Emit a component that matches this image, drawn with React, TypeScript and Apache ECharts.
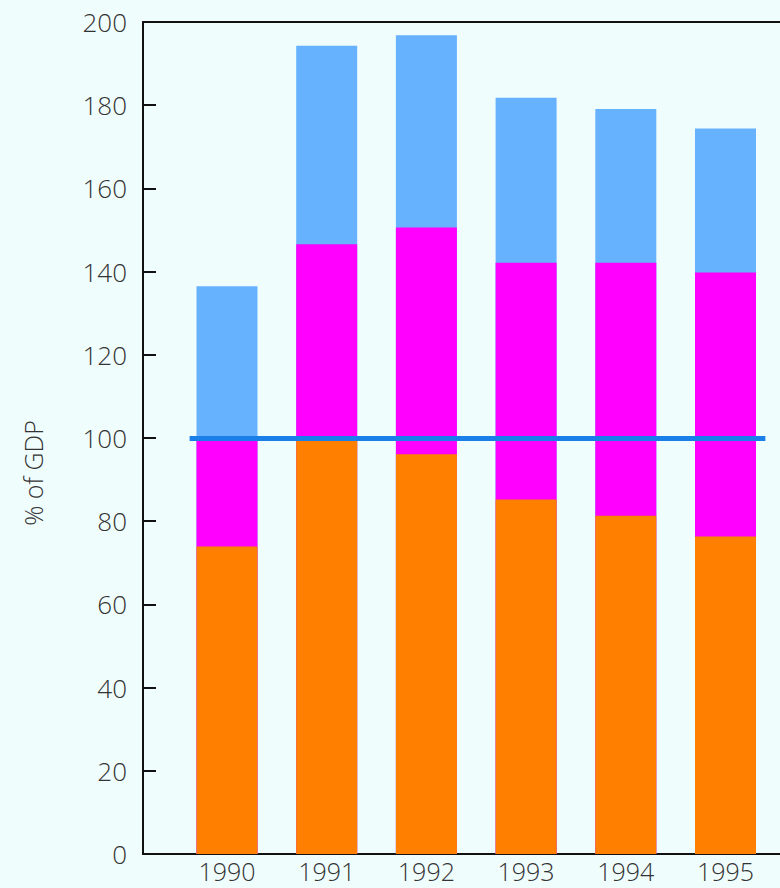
import React, { useEffect, useRef } from "react";
import * as echarts from "echarts";

const years = [1990, 1991, 1992, 1993, 1994, 1995];
const orangeValues = [73.9, 99.3, 96.1, 85.2, 81.3, 76.3];
const magentaValues = [25.4, 47.3, 54.5, 56.9, 60.8, 63.5];
const blueValues = [37.2, 47.7, 46.2, 39.7, 37.0, 34.6];
const referenceLevel = 100;
const yTicks = { min: 0, max: 200, interval: 20 };

const FONT = "'Open Sans', 'Noto Sans', sans-serif";

export default function App() {
  const ref = useRef<HTMLDivElement>(null);

  useEffect(() => {
    if (!ref.current) return;
    const chart = echarts.init(ref.current, null, { renderer: "svg" });
    // cumulative tops of each stacked segment (the value x axis does not stack, so
    // segments are drawn as overlapping bars from the baseline, tallest first)
    const orangeTop = orangeValues.map((v) => v);
    const magentaTop = orangeValues.map((v, i) => v + magentaValues[i]);
    const blueTop = magentaTop.map((v, i) => v + blueValues[i]);
    const pair = (vals: number[]) => years.map((y, i) => [y, +vals[i].toFixed(2)]);
    const xMin = 1989.1575;
    const xMax = 1995.5466;
    const option: any = {
      animation: false,
      backgroundColor: "#f0fdfd",
      grid: { left: 143, right: 0, top: 22, bottom: 34, containLabel: false },
      xAxis: [
        {
          type: "value",
          min: xMin,
          max: xMax,
          position: "bottom",
          axisLine: { show: true, onZero: false, lineStyle: { color: "#111", width: 2 } },
          axisTick: { show: false },
          splitLine: { show: false },
          axisLabel: {
            customValues: years,
            formatter: (v: number) => String(Math.round(v)),
            fontFamily: FONT,
            fontSize: 25,
            lineHeight: 25,
            fontWeight: 300,
            color: "#333",
            margin: 4,
          },
        },
        {
          type: "value",
          min: xMin,
          max: xMax,
          position: "top",
          axisLine: { show: true, onZero: false, lineStyle: { color: "#111", width: 2 } },
          axisTick: { show: false },
          splitLine: { show: false },
          axisLabel: { show: false },
        },
      ],
      yAxis: {
        type: "value",
        min: yTicks.min,
        max: yTicks.max,
        interval: yTicks.interval,
        axisLine: { show: true, lineStyle: { color: "#111", width: 2 } },
        axisTick: { show: true, inside: true, length: 13, lineStyle: { color: "#111", width: 2 } },
        splitLine: { show: false },
        axisLabel: {
          fontFamily: FONT,
          fontSize: 26,
          fontWeight: 300,
          color: "#333",
          margin: 16,
        },
      },
      graphic: [
        {
          type: "text",
          x: 33,
          y: 473,
          rotation: Math.PI / 2,
          style: {
            text: "% of GDP",
            fontFamily: FONT,
            fontSize: 25,
            fontWeight: 300,
            fill: "#333",
            align: "center",
            verticalAlign: "middle",
          },
        },
      ],
      series: [
        {
          name: "Blue",
          type: "bar",
          barWidth: 61,
          barGap: "-100%",
          data: pair(blueTop),
          itemStyle: { color: "#66b2ff" },
        },
        {
          name: "Magenta",
          type: "bar",
          barWidth: 61,
          barGap: "-100%",
          data: pair(magentaTop),
          itemStyle: { color: "#ff00ff" },
        },
        {
          name: "Orange",
          type: "bar",
          barWidth: 61,
          barGap: "-100%",
          data: pair(orangeTop),
          itemStyle: { color: "#ff8000" },
          markLine: {
            silent: true,
            symbol: ["none", "none"],
            label: { show: false },
            lineStyle: { color: "#1a7fe8", width: 5, type: "solid" },
            data: [
              [
                { coord: [1989.625, referenceLevel] },
                { coord: [1995.4, referenceLevel] },
              ],
            ],
          },
        },
      ],
    };
    chart.setOption(option);
    return () => chart.dispose();
  }, []);

  return (
    <div
      ref={ref}
      style={{ position: "absolute", left: 0, top: 0, width: 780, height: 888 }}
    />
  );
}
